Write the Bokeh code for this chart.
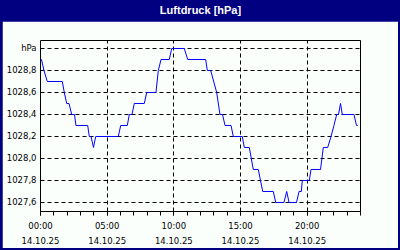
from bokeh.plotting import figure
from bokeh.layouts import column
from bokeh.models import FixedTicker, Range1d
from bokeh.core.properties import value
from bokeh.embed import file_html
from bokeh.resources import INLINE

title_text = "Luftdruck [hPa]"
hours = [0.0, 0.075, 0.26, 0.51, 1.635, 1.785, 1.965, 2.14, 2.34, 2.55, 2.66, 3.54,
         3.66, 3.79, 3.975, 4.14, 5.835, 6.015, 6.51, 6.66, 6.86, 7.035, 7.785, 7.965,
         8.66, 8.835, 9.04, 9.66, 9.84, 10.785, 11.04, 12.39, 12.51, 12.765, 13.215,
         13.46, 13.65, 13.84, 14.29, 14.46, 15.135, 15.285, 15.66, 15.96, 16.335,
         16.665, 17.46, 17.64, 18.26, 18.465, 18.64, 19.2, 19.39, 19.56, 19.635, 20.16,
         20.29, 21.0, 21.21, 21.54, 21.79, 22.01, 22.215, 22.35, 22.5, 22.635, 23.51,
         23.7, 23.79]
pressure = [1028.9, 1028.9, 1028.8, 1028.7, 1028.7, 1028.6, 1028.5, 1028.5, 1028.4,
            1028.4, 1028.3, 1028.3, 1028.2, 1028.2, 1028.1, 1028.2, 1028.2, 1028.3,
            1028.3, 1028.4, 1028.4, 1028.5, 1028.5, 1028.6, 1028.6, 1028.8, 1028.9,
            1028.9, 1029.0, 1029.0, 1028.9, 1028.9, 1028.8, 1028.8, 1028.6, 1028.4,
            1028.4, 1028.3, 1028.3, 1028.2, 1028.2, 1028.1, 1028.1, 1027.9, 1027.9,
            1027.7, 1027.7, 1027.6, 1027.6, 1027.7, 1027.6, 1027.6, 1027.7, 1027.7,
            1027.8, 1027.8, 1027.9, 1027.9, 1028.1, 1028.1, 1028.2, 1028.3, 1028.4,
            1028.4, 1028.5, 1028.4, 1028.4, 1028.3, 1028.3]

x_ticks = [0, 5, 10, 15, 20]
x_labels = ["00:00\n14.10.25", "05:00\n14.10.25", "10:00\n14.10.25",
            "15:00\n14.10.25", "20:00\n14.10.25"]
x_minor = list(range(0, 25))
y_ticks = [1027.6, 1027.8, 1028.0, 1028.2, 1028.4, 1028.6, 1028.8, 1029.0]
y_labels = ["1027,6", "1027,8", "1028,0", "1028,2", "1028,4", "1028,6", "1028,8", "hPa"]

NAVY = "#000080"
BG = "#FBFFFB"
FONT = "DejaVu Sans"

# navy title bar
t = figure(width=396, height=21, output_backend="svg", toolbar_location=None,
           x_range=Range1d(0, 1), y_range=Range1d(0, 1),
           x_axis_type=None, y_axis_type=None, min_border=0)
t.background_fill_color = NAVY
t.border_fill_color = NAVY
t.outline_line_color = None
t.grid.visible = False
t.text(x=[0.5], y=[0.55], text=[title_text], text_align="center",
       text_baseline="middle", text_color="white",
       text_font=value("Liberation Sans"), text_font_style="bold",
       text_font_size="11px")

p = figure(width=396, height=227, output_backend="svg", toolbar_location=None,
           x_range=Range1d(0, 24), y_range=Range1d(1027.518, 1029.0727),
           min_border_left=38, min_border_right=38, min_border_top=19,
           min_border_bottom=37)
p.background_fill_color = BG
p.border_fill_color = BG
p.outline_line_color = "black"
p.outline_line_width = 1

p.line(hours, pressure, line_color="#0000FF", line_width=1)

p.xaxis.ticker = FixedTicker(ticks=x_ticks, minor_ticks=x_minor)
p.xaxis.major_label_overrides = dict(zip(x_ticks, x_labels))
p.yaxis.ticker = FixedTicker(ticks=y_ticks)
p.yaxis.major_label_overrides = dict(zip(y_ticks, y_labels))

for ax in (p.xaxis[0], p.yaxis[0]):
    ax.axis_line_color = None
    ax.major_label_text_font = FONT
    ax.major_label_text_font_size = "8.5px"
    ax.major_label_text_color = "black"

p.xaxis.major_tick_out = 4
p.xaxis.major_tick_in = 0
p.xaxis.minor_tick_out = 4
p.xaxis.minor_tick_in = 0
p.xaxis.major_tick_line_color = "black"
p.xaxis.minor_tick_line_color = "black"
p.xaxis.major_label_standoff = 5
p.xaxis.major_label_text_line_height = 1.5
p.yaxis.major_tick_out = 0
p.yaxis.major_tick_in = 0
p.yaxis.minor_tick_line_color = None
p.yaxis.major_label_standoff = 4

for g in (p.xgrid[0], p.ygrid[0]):
    g.grid_line_color = "black"
    g.grid_line_dash = "4 3"
    g.grid_line_width = 1
p.xgrid.ticker = FixedTicker(ticks=x_ticks)
p.ygrid.ticker = FixedTicker(ticks=y_ticks)

layout = column(t, p, spacing=0,
                styles={"background-color": NAVY, "padding": "0px 2px 2px 2px"})

open("out.html", "w").write(file_html(layout, INLINE))
